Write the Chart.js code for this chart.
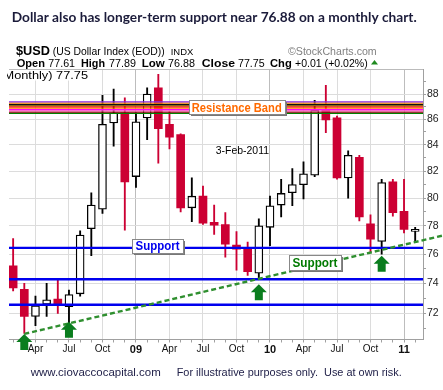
<!DOCTYPE html>
<html lang="en">
<head>
    <meta charset="UTF-8">
    <title>$USD monthly</title>
    <script src="https://cdn.jsdelivr.net/npm/chart.js"></script>
    <style>
        html, body { margin: 0; padding: 0; background: #fff; }
        #wrap { width: 443px; height: 390px; position: relative; }
    </style>
</head>
<body>
<div id="wrap"><canvas id="myChart" width="443" height="390"></canvas></div>
<script>
    // monthly candles, Feb 2008 .. Feb 2011 (index 0 = Feb 2008)
    const months = ['Feb08','Mar08','Apr08','May08','Jun08','Jul08','Aug08','Sep08','Oct08','Nov08','Dec08',
        'Jan09','Feb09','Mar09','Apr09','May09','Jun09','Jul09','Aug09','Sep09','Oct09','Nov09','Dec09',
        'Jan10','Feb10','Mar10','Apr10','May10','Jun10','Jul10','Aug10','Sep10','Oct10','Nov10','Dec10',
        'Jan11','Feb11'];
    const opens  = [75.2, 73.6, 71.8, 72.6, 72.95, 72.45, 73.3, 77.8, 79.2, 85.7, 86.5,
        81.6, 86.1, 88.5, 85.6, 84.8, 79.3, 80.15, 78.25, 78.1, 76.65, 76.4, 74.7,
        77.9, 79.5, 80.4, 81.0, 81.7, 86.7, 86.1, 81.5, 83.05, 78.15, 76.9, 81.2,
        79.05, 77.61];
    const highs  = [77.1, 74.0, 73.15, 74.0, 74.3, 73.55, 77.65, 80.4, 87.9, 88.4, 87.7,
        86.5, 88.5, 89.6, 86.6, 84.85, 81.5, 80.9, 79.5, 78.95, 77.6, 76.85, 78.5,
        80.15, 81.4, 82.2, 82.7, 87.5, 88.7, 86.25, 83.55, 83.2, 78.8, 81.4, 81.4,
        81.4, 77.89];
    const lows   = [73.5, 70.7, 71.2, 71.8, 72.0, 71.3, 73.15, 75.9, 78.9, 83.9, 77.7,
        80.8, 84.4, 82.6, 83.7, 79.0, 78.3, 78.1, 77.4, 75.8, 74.9, 74.55, 74.3,
        76.6, 78.65, 79.45, 79.95, 81.6, 84.95, 81.4, 80.0, 78.35, 76.15, 76.0, 78.7,
        77.5, 76.88];
    const closes = [73.7, 71.8, 72.5, 72.9, 72.65, 73.25, 77.35, 79.5, 85.6, 86.5, 81.2,
        85.8, 88.0, 85.25, 84.6, 79.3, 80.15, 78.2, 78.05, 76.7, 76.35, 74.8, 78.0,
        79.45, 80.35, 81.0, 81.8, 86.7, 85.95, 81.5, 83.2, 78.65, 77.05, 81.15, 78.95,
        77.75, 77.75];

    // x axis labels (month index -> text)
    const tickMonths = [2, 5, 8, 11, 14, 17, 20, 23, 26, 29, 32, 35];
    const tickLabels = ['Apr', 'Jul', 'Oct', '09', 'Apr', 'Jul', 'Oct', '10', 'Apr', 'Jul', 'Oct', '11'];
    const yTicks = [71, 72, 73, 74, 75, 76, 77, 78, 79, 80, 81, 82, 83, 84, 85, 86, 87, 88, 89];

    // annotation levels
    const supportLevels = [76.45, 74.28, 72.57];
    const bandLevels = [87.38, 87.28, 87.18, 87.07, 86.97, 86.87, 86.76, 86.66, 86.56, 86.46];
    const bandColors = ['#8a2be2', '#ff8c00', '#111111', '#8b6914', '#ff0000', '#ff7f00', '#ff00ff', '#ff69b4', '#800000', '#008000'];
    const trendMonths = [1, 38.5];
    const trendValues = [70.66, 77.32];
    const arrowMonths = [1, 5, 22, 33];
    const arrowValues = [70.66, 71.45, 73.95, 75.9];

    const RED = '#cc0033';
    const FONT = '"Liberation Sans", Arial, sans-serif';
    const isUp = i => closes[i] >= opens[i];

    const wickData = months.map((m, i) => ({ x: i, y: [lows[i], highs[i]] }));
    const bodyData = months.map((m, i) => ({ x: i, y: [opens[i], closes[i]] }));

    const datasets = [];
    // band lines on top
    bandLevels.forEach((v, k) => {
        datasets.push({
            type: 'line', data: [{ x: -1, y: v }, { x: 38, y: v }],
            borderColor: bandColors[k], borderWidth: 1.3, pointRadius: 0, order: -2
        });
    });
    supportLevels.forEach(v => {
        datasets.push({
            type: 'line', data: [{ x: -1, y: v }, { x: 38, y: v }],
            borderColor: '#0000ee', borderWidth: 2.4, pointRadius: 0, order: -2
        });
    });
    datasets.push({
        type: 'line',
        data: trendMonths.map((m, i) => ({ x: m, y: trendValues[i] })),
        borderColor: '#2f8f2f', borderWidth: 2.4, borderDash: [5, 3],
        pointRadius: 0, order: -3, clip: false
    });
    datasets.push({
        type: 'bar', data: bodyData, grouped: false, barThickness: 8, minBarLength: 2,
        borderSkipped: false,
        backgroundColor: months.map((m, i) => isUp(i) ? '#ffffff' : RED),
        borderColor: months.map((m, i) => isUp(i) ? '#000000' : RED),
        borderWidth: months.map((m, i) => isUp(i) ? 1.3 : 0),
        order: 0
    });
    datasets.push({
        type: 'bar', data: wickData, grouped: false, barThickness: 1.2,
        borderSkipped: false, borderWidth: 0,
        backgroundColor: months.map((m, i) => isUp(i) ? '#000000' : RED),
        order: 1
    });

    function fitText(ctx, text, x, y, w, font, color) {
        ctx.save();
        ctx.font = font;
        ctx.fillStyle = color;
        ctx.textBaseline = 'alphabetic';
        ctx.textAlign = 'left';
        const m = ctx.measureText(text).width;
        ctx.translate(x, y);
        ctx.scale(w / m, 1);
        ctx.fillText(text, 0, 0);
        ctx.restore();
    }

    function labelBox(ctx, cx, cy, w, h, text, tw, color) {
        const x = Math.round(cx - w / 2) + 0.5, y = Math.round(cy - h / 2) + 0.5;
        ctx.save();
        ctx.fillStyle = '#777';
        ctx.fillRect(x + 1.5, y + 1.5, w, h);
        ctx.fillStyle = '#fff';
        ctx.fillRect(x, y, w, h);
        ctx.strokeStyle = '#888';
        ctx.lineWidth = 1;
        ctx.strokeRect(x, y, w, h);
        ctx.restore();
        fitText(ctx, text, cx - tw / 2, cy + 4.5, tw, 'bold 12px ' + FONT, color);
    }

    const decor = {
        id: 'decor',
        beforeDraw(chart) {
            const ctx = chart.ctx;
            ctx.save();
            ctx.fillStyle = '#fff';
            ctx.fillRect(0, 0, chart.width, chart.height);
            ctx.restore();
        },
        afterDatasetsDraw(chart) {
            const ctx = chart.ctx;
            const xs = chart.scales.x, ys = chart.scales.y;
            const a = chart.chartArea;
            // top border
            ctx.save();
            ctx.strokeStyle = '#bbbbbb';
            ctx.lineWidth = 1;
            ctx.beginPath();
            ctx.moveTo(a.left, Math.round(a.top) + 0.5);
            ctx.lineTo(a.right, Math.round(a.top) + 0.5);
            ctx.stroke();
            ctx.restore();

            // arrows
            ctx.save();
            ctx.fillStyle = '#0a7d1e';
            arrowMonths.forEach((m, i) => {
                const x = xs.getPixelForValue(m), y = ys.getPixelForValue(arrowValues[i]);
                ctx.beginPath();
                ctx.moveTo(x, y);
                ctx.lineTo(x + 8, y + 8);
                ctx.lineTo(x + 4, y + 8);
                ctx.lineTo(x + 4, y + 16);
                ctx.lineTo(x - 4, y + 16);
                ctx.lineTo(x - 4, y + 8);
                ctx.lineTo(x - 8, y + 8);
                ctx.closePath();
                ctx.fill();
            });
            ctx.restore();

            labelBox(ctx, xs.getPixelForValue(20.02), ys.getPixelForValue(86.94), 96, 14, 'Resistance Band', 90, '#ff6a00');
            labelBox(ctx, xs.getPixelForValue(12.93), ys.getPixelForValue(76.58), 51, 14, 'Support', 44, '#0000ee');
            labelBox(ctx, xs.getPixelForValue(27.03), ys.getPixelForValue(75.42), 52, 15, 'Support', 45, '#007a00');

            const dx = xs.getPixelForValue(20.52), dy = ys.getPixelForValue(83.6);
            fitText(ctx, '3-Feb-2011', dx - 26.6, dy + 4, 53.3, '10.5px ' + FONT, '#000');

            // legend at top-left of plot
            ctx.save();
            ctx.fillStyle = '#fff';
            ctx.fillRect(0, a.top + 1, 93, 10.5);
            ctx.beginPath();
            ctx.rect(7, 0, 100, 100);
            ctx.clip();
            fitText(ctx, 'Monthly) 77.75', 3.5, 79, 84.5, '10.5px ' + FONT, '#000');
            ctx.restore();
        },
        afterDraw(chart) {
            const ctx = chart.ctx;
            fitText(ctx, 'Dollar also has longer-term support near 76.88 on a monthly chart.', 11.7, 22.3, 405,
                'bold 13.5px Lato, "Open Sans", sans-serif', '#1b1b3a');
            fitText(ctx, '$USD', 16, 55, 34, 'bold 13px ' + FONT, '#000');
            fitText(ctx, '(US Dollar Index (EOD))', 52.7, 55, 112, '11px ' + FONT, '#000');
            fitText(ctx, 'INDX', 170.7, 55, 22.6, '9px ' + FONT, '#000');
            fitText(ctx, '\u00A9StockCharts.com', 288, 55, 88.7, '10.5px ' + FONT, '#808080');

            const seg = [
                ['Open', 16.7, 28.3, true], ['77.61', 48.3, 26.7, false],
                ['High', 81, 24, true], ['77.89', 109, 27, false],
                ['Low', 141.7, 23, true], ['76.88', 168, 27, false],
                ['Close', 201.7, 33.3, true], ['77.75', 238, 26.7, false],
                ['Chg', 270, 21.7, true], ['+0.01 (+0.02%)', 295, 72.7, false]
            ];
            seg.forEach(s => fitText(ctx, s[0], s[1], 66.7, s[2], (s[3] ? 'bold ' : '') + '11px ' + FONT, '#000'));
            ctx.save();
            ctx.fillStyle = '#1e8a1e';
            ctx.beginPath();
            ctx.moveTo(371, 64.5);
            ctx.lineTo(378, 64.5);
            ctx.lineTo(374.5, 60);
            ctx.closePath();
            ctx.fill();
            ctx.restore();

            fitText(ctx, 'www.ciovaccocapital.com', 30.7, 376, 130, '11.5px ' + FONT, '#22224a');
            fitText(ctx, 'For illustrative purposes only.  Use at own risk.', 176.7, 376, 225, '11.5px ' + FONT, '#22224a');
        }
    };

    const ctx = document.getElementById('myChart').getContext('2d');
    const myChart = new Chart(ctx, {
        type: 'bar',
        data: { datasets: datasets },
        plugins: [decor],
        options: {
            responsive: false,
            animation: false,
            events: [],
            layout: { padding: { top: 69, left: 9, right: 0, bottom: 30.5 } },
            plugins: { legend: { display: false }, tooltip: { enabled: false } },
            scales: {
                x: {
                    type: 'linear', min: -0.37, max: 36.7, offset: false,
                    afterBuildTicks: s => { s.ticks = months.map((m, i) => ({ value: i })); },
                    afterFit: s => { s.height = 20; },
                    border: { color: '#a0a0a0', width: 1 },
                    grid: {
                        offset: false, tickLength: 3,
                        color: c => {
                            const k = tickMonths.indexOf(c.tick.value);
                            if (k < 0) return 'rgba(0,0,0,0)';
                            return /^\d/.test(tickLabels[k]) ? '#bdbdbd' : '#dcdcdc';
                        },
                        tickColor: '#a0a0a0'
                    },
                    ticks: {
                        autoSkip: false, maxRotation: 0, padding: 1, color: '#111',
                        callback: v => { const k = tickMonths.indexOf(v); return k < 0 ? '' : tickLabels[k]; },
                        font: c => {
                            const k = tickMonths.indexOf(c.tick && c.tick.value);
                            const yr = k >= 0 && /^\d/.test(tickLabels[k]);
                            return { family: FONT, size: yr ? 11 : 10, weight: yr ? 'bold' : 'normal' };
                        }
                    }
                },
                y: {
                    type: 'logarithmic', position: 'right', min: 70.3, max: 90.04,
                    afterBuildTicks: s => { s.ticks = yTicks.map(v => ({ value: v })); },
                    afterFit: s => { s.width = 20; },
                    border: { color: '#a0a0a0', width: 1 },
                    grid: {
                        tickLength: 3,
                        color: c => c.tick.value % 2 === 0 ? '#dcdcdc' : 'rgba(0,0,0,0)',
                        tickColor: '#a0a0a0'
                    },
                    ticks: {
                        autoSkip: false, padding: 1, color: '#222',
                        font: { family: FONT, size: 10.5 },
                        callback: v => v % 2 === 0 ? String(v) : ''
                    }
                }
            }
        }
    });
</script>
</body>
</html>
